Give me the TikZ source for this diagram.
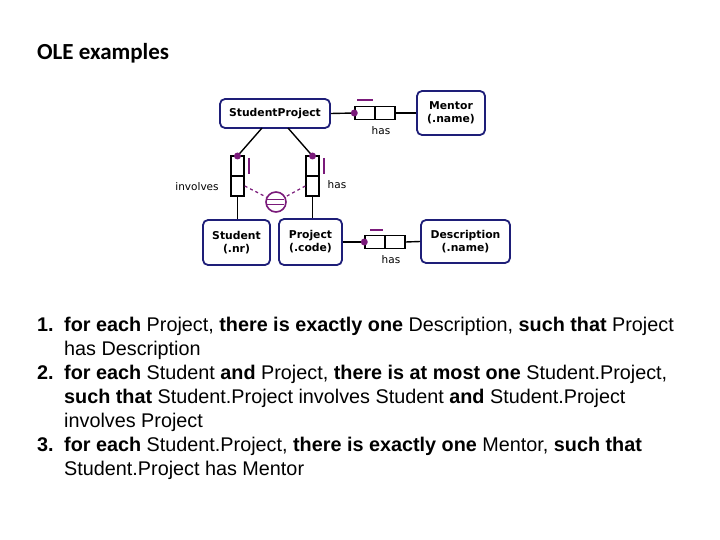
\documentclass[tikz,border=0pt]{standalone}
\usepackage{fontspec}
\setmainfont{Liberation Sans}
\newfontfamily\calfont{Carlito}
\newfontfamily\dvs{DejaVu Sans}
\begin{document}
\begin{tikzpicture}[x=1pt,y=-1pt,
 ent/.style={draw=navy,line width=1.8pt,rounded corners=5pt,fill=white,align=center,font=\dvs\bfseries\fontsize{10.8}{13}\selectfont,inner sep=0pt},
 role/.style={draw=black,line width=1.4pt,fill=white,minimum width=20pt,minimum height=13pt,inner sep=0pt},
 vrole/.style={draw=black,line width=1.4pt,fill=white,minimum width=13pt,minimum height=20pt,inner sep=0pt},
 dot/.style={circle,fill=pur,inner sep=0pt,minimum size=7pt},
 bar/.style={draw=pur,line width=1.6pt},
 lab/.style={font=\dvs\fontsize{10.5}{12}\selectfont},
 ln/.style={anchor=base west,font=\fontsize{19.8}{22}\selectfont,inner sep=0pt}]
\definecolor{navy}{HTML}{1E1E78}
\definecolor{pur}{HTML}{7A1A7A}
\useasboundingbox (0,0) rectangle (720,540);
\node[anchor=base west,font=\calfont\bfseries\fontsize{23}{27}\selectfont,inner sep=0pt] (title) at (37,60) {OLE examples};
% entities
\node[ent,minimum width=110pt,minimum height=29pt] (sp) at (275,113.5) {StudentProject};
\node[ent,minimum width=68pt,minimum height=44pt] (mentor) at (451,113) {Mentor\\(.name)};
\node[ent,minimum width=67pt,minimum height=45pt] (student) at (236.5,242.5) {Student\\(.nr)};
\node[ent,minimum width=63pt,minimum height=46pt] (project) at (310.5,242) {Project\\(.code)};
\node[ent,minimum width=89pt,minimum height=43pt] (desc) at (465.5,241.5) {Description\\(.name)};
% top role mentor
\node[role] (m1) at (365,113) {};
\node[role] (m2) at (385,113) {};
\draw[line width=1.4pt] (sp.east) -- (m1.west);
\draw[line width=1.4pt] (m2.east) -- (mentor.west);
\node[dot] (md) at (m1.west) {};
\draw[bar] (357,100) -- (373,100);
\node[lab] (hasm) at (381,131) {has};
% desc role
\node[role] (d1) at (375,242) {};
\node[role] (d2) at (395,242) {};
\draw[line width=1.4pt] (project.east) -- (d1.west);
\draw[line width=1.4pt] (d2.east) -- (desc.west);
\node[dot] (dd) at (d1.west) {};
\draw[bar] (370,230) -- (383,230);
\node[lab] (hasd) at (391,260) {has};
% involves role
\node[vrole] (i1) at (237.5,166) {};
\node[vrole] (i2) at (237.5,186) {};
\coordinate (it) at (237.5,156);
\draw[line width=1.4pt] (262,128) -- (it);
\draw[line width=1.4pt] (i2.south) -- (student.north -| i2.south);
\node[dot] (id) at (it) {};
\draw[bar] (249,158) -- (249,174);
\node[lab] (inv) at (197,187) {involves};
% has role project
\node[vrole] (h1) at (312.5,166) {};
\node[vrole] (h2) at (312.5,186) {};
\coordinate (ht) at (312.5,156);
\draw[line width=1.4pt] (288,128) -- (ht);
\draw[line width=1.4pt] (h2.south) -- (project.north -| h2.south);
\node[dot] (hd) at (ht) {};
\draw[bar] (324,158) -- (324,174);
\node[lab] (hasp) at (337,185) {has};
% equality constraint
\node[circle,draw=pur,line width=1.6pt,minimum size=20pt,inner sep=0pt,fill=white] (eq) at (276,202) {};
\draw[pur,dashed,line width=1.2pt] (i2.east) -- (eq);
\draw[pur,dashed,line width=1.2pt] (h2.west) -- (eq);
\draw[bar] (eq.west) ++(1,-2.5) -- ++(18,0);
\draw[bar] (eq.west) ++(1,2.5) -- ++(18,0);
% text
\node[ln] (n1) at (37,331) {\textbf{1.}};
\node[ln] (l1a) at (64,331) {\textbf{for each} Project, \textbf{there is exactly one} Description, \textbf{such that} Project};
\node[ln] (l1b) at (64,355) {has Description};
\node[ln] (n2) at (37,379) {\textbf{2.}};
\node[ln] (l2a) at (64,379) {\textbf{for each} Student \textbf{and} Project, \textbf{there is at most one} Student.Project,};
\node[ln] (l2b) at (64,403) {\textbf{such that} Student.Project involves Student \textbf{and} Student.Project};
\node[ln] (l2c) at (64,427) {involves Project};
\node[ln] (n3) at (37,451) {\textbf{3.}};
\node[ln] (l3a) at (64,451) {\textbf{for each} Student.Project, \textbf{there is exactly one} Mentor, \textbf{such that}};
\node[ln] (l3b) at (64,475) {Student.Project has Mentor};
\end{tikzpicture}
\end{document}
